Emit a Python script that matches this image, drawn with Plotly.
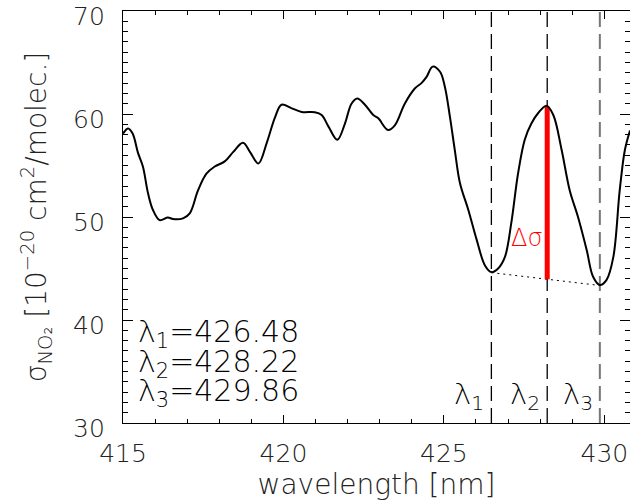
import plotly.graph_objects as go

# ---- data ----
wavelength = [415.0, 415.16, 415.3, 415.47, 415.62, 415.78, 415.93, 416.14, 416.4, 416.56,
              416.87, 417.08, 417.34, 417.6, 417.86, 418.17, 418.43, 418.74, 418.96, 419.22,
              419.48, 419.74, 419.94, 420.26, 420.57, 420.98, 421.19, 421.4, 421.68, 421.92,
              422.12, 422.3, 422.54, 422.8, 422.95, 423.26, 423.47, 423.78, 424.1, 424.3,
              424.46, 424.65, 424.88, 425.03, 425.19, 425.34, 425.5, 425.76, 426.02, 426.28,
              426.48, 426.69, 426.9, 427.1, 427.31, 427.52, 427.73, 427.94, 428.2, 428.41,
              428.67, 428.92, 429.18, 429.45, 429.65, 429.86, 430.07, 430.28, 430.48, 430.64,
              430.8]
sigma = [58.1, 58.6, 58.1, 56.2, 54.9, 52.3, 50.7, 49.7, 49.95, 49.8,
         49.87, 50.35, 52.6, 54.2, 54.9, 55.4, 56.3, 57.2, 56.3, 55.2,
         57.2, 59.7, 60.9, 60.55, 60.2, 60.17, 59.9, 58.8, 57.5, 59.1,
         61.0, 61.5, 60.9, 59.9, 59.6, 58.45, 58.9, 61.0, 62.5, 63.0,
         63.6, 64.6, 64.1, 62.65, 59.7, 56.5, 53.3, 50.7, 47.8, 45.3,
         44.65, 45.0, 46.1, 49.4, 54.2, 57.5, 59.1, 60.1, 60.8, 59.9,
         56.5, 52.6, 50.0, 46.8, 44.2, 43.4, 43.9, 46.1, 52.6, 56.5,
         58.4]

lambdas = [426.48, 428.22, 429.86]
lambda_names = ["λ<sub>1</sub>", "λ<sub>2</sub>", "λ<sub>3</sub>"]
sigma_at_lambda = [44.6, 60.7, 43.35]   # curve minimum / maximum values at the three wavelengths
dashed_colors = ["black", "black", "#777777"]

x_range = [415, 430.8]
y_range = [30, 70]
x_ticks = [415, 420, 425, 430]
y_ticks = [30, 40, 50, 60, 70]

FONT = "DejaVu Sans"
W = 200

fig = go.Figure()

# vertical dashed lines at the three wavelengths
for lam, col in zip(lambdas, dashed_colors):
    fig.add_trace(go.Scatter(x=[lam, lam], y=y_range, mode="lines",
                             line=dict(color=col, width=1.3 if col == "black" else 2, dash="15px,7px"),
                             showlegend=False, hoverinfo="skip"))

# dotted baseline between lambda1 and lambda3
fig.add_trace(go.Scatter(x=[lambdas[0], lambdas[2]], y=[sigma_at_lambda[0], sigma_at_lambda[2]],
                         mode="lines", line=dict(color="black", width=1, dash="2px,4px"),
                         showlegend=False, hoverinfo="skip"))

# baseline value at lambda2 (linear interpolation between lambda1 and lambda3)
frac = (lambdas[1] - lambdas[0]) / (lambdas[2] - lambdas[0])
base2 = sigma_at_lambda[0] + frac * (sigma_at_lambda[2] - sigma_at_lambda[0])

# red delta-sigma bar
fig.add_trace(go.Scatter(x=[lambdas[1], lambdas[1]], y=[base2, sigma_at_lambda[1]], mode="lines",
                         line=dict(color="#ff0000", width=5),
                         showlegend=False, hoverinfo="skip"))

# cross-section curve
fig.add_trace(go.Scatter(x=wavelength, y=sigma, mode="lines",
                         line=dict(color="black", width=2, shape="spline", smoothing=1.0),
                         showlegend=False, hoverinfo="skip"))

# labels at the bottom of dashed lines
for lam, name in zip(lambdas, lambda_names):
    fig.add_annotation(x=lam, y=32.6, text=name, showarrow=False, xanchor="right",
                       xshift=-5, yanchor="middle",
                       font=dict(family=FONT, size=29, color="black", weight=W))

# delta sigma label
fig.add_annotation(x=lambdas[1], y=48.0, text="Δσ", showarrow=False, xanchor="right",
                   xshift=-2, yanchor="middle",
                   font=dict(family=FONT, size=24, color="#ff0000", weight=W))

# lambda values text block
value_rows_y = [38.7, 35.8, 33.0]
for name, lam, yy in zip(lambda_names, lambdas, value_rows_y):
    fig.add_annotation(x=415.42, y=yy, text=f"{name}={lam:.2f}", showarrow=False,
                       xanchor="left", yanchor="middle",
                       font=dict(family=FONT, size=30, color="black", weight=W))

axis_font = dict(family=FONT, size=25, color="#222222", weight=W)
title_font = dict(family=FONT, size=28, color="#222222", weight=W)

fig.update_layout(
    width=630, height=504,
    margin=dict(l=123, r=0, t=11, b=81, autoexpand=False),
    paper_bgcolor="white", plot_bgcolor="white",
    showlegend=False,
    xaxis=dict(range=x_range, tickvals=x_ticks, ticks="inside", ticklen=8, tickwidth=1,
               tickcolor="black", showline=True, linecolor="black", linewidth=1.2,
               mirror="ticks", showgrid=False, zeroline=False, automargin=False,
               minor=dict(dtick=1, ticks="inside", ticklen=4, tickcolor="black", showgrid=False),
               tickfont=axis_font, ticklabelstandoff=8, ticklabeloverflow="allow",
               title=dict(text="wavelength [nm]", font=title_font, standoff=0)),
    yaxis=dict(range=y_range, tickvals=y_ticks, ticks="inside", ticklen=10, tickwidth=1,
               tickcolor="black", showline=True, linecolor="black", linewidth=1.2,
               mirror="ticks", showgrid=False, zeroline=False, automargin=False,
               minor=dict(dtick=1, ticks="inside", ticklen=5, tickcolor="black", showgrid=False),
               tickfont=axis_font, ticklabelstandoff=12, ticklabeloverflow="allow",
               ticklabelshift=5,
               title=dict(text="σ<sub>NO₂</sub> [10<sup>−20</sup> cm<sup>2</sup>/molec.]",
                          font=title_font, standoff=18)),
)

fig.write_html("out.html", config={"displayModeBar": False},
               post_script="document.body.style.margin='0px';")
